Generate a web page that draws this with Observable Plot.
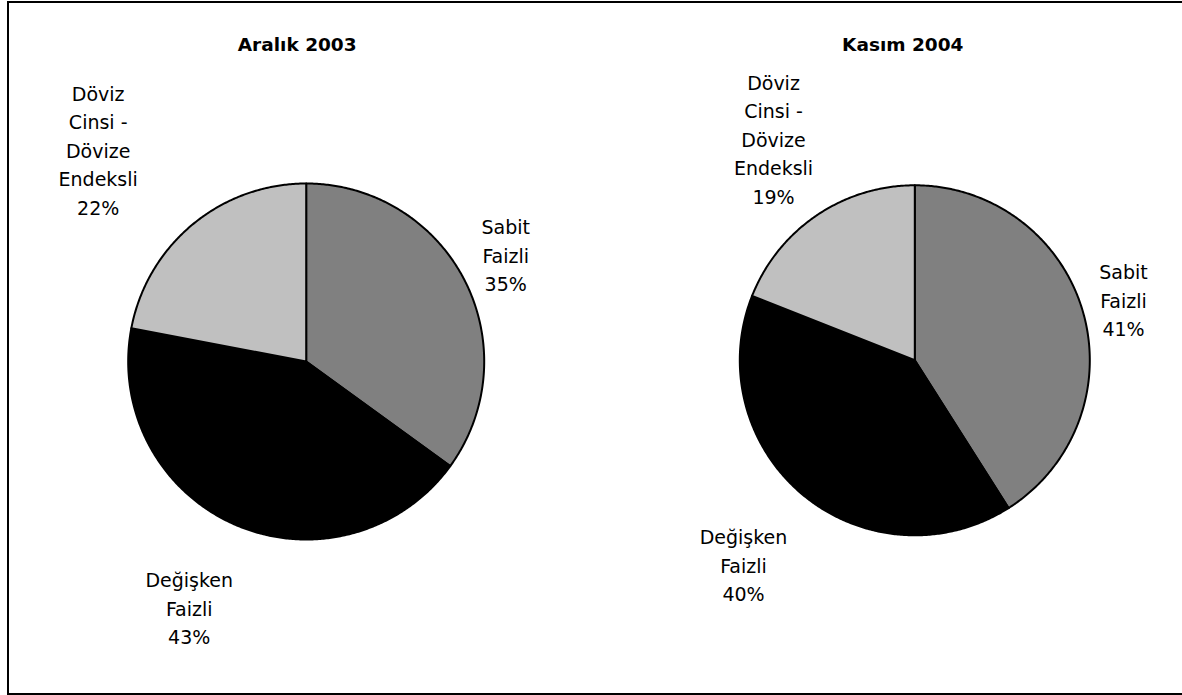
<!DOCTYPE html>
<html>
<head>
<meta charset="utf-8">
<script src="https://cdn.jsdelivr.net/npm/d3@7"></script>
<script src="https://cdn.jsdelivr.net/npm/@observablehq/plot@0.6"></script>
<style>
  html, body { margin: 0; padding: 0; background: #fff; overflow: hidden; }
  #page { position: relative; width: 1182px; height: 695px; overflow: hidden; }
  #frame { position: absolute; left: 7px; top: 1px; width: 1180px; height: 690px;
           border-left: 2px solid #000; border-top: 2px solid #000; border-bottom: 2px solid #000; border-right: none; }
  #chart { position: absolute; left: 0; top: 0; width: 1182px; height: 695px; }
</style>
</head>
<body>
<div id="page">
  <div id="frame"></div>
  <div id="chart"></div>
</div>
<script>
// ---- data ----
const periods = ["Aralık 2003", "Kasım 2004"];
const categories = ["Sabit Faizli", "Değişken Faizli", "Döviz Cinsi - Dövize Endeksli"];
const categoryLabels = ["Sabit\nFaizli", "Değişken\nFaizli", "Döviz\nCinsi -\nDövize\nEndeksli"];
const shares2003 = [35, 43, 22];
const shares2004 = [41, 40, 19];
const sliceColors = ["#808080", "#000000", "#c0c0c0"];

// ---- layout (pixels) ----
const W = 1182, H = 695, FACET_W = W / 2;
const pieGeom = {
  "Aralık 2003": {cx: 10.2, cy: 0, r: 178},
  "Kasım 2004": {cx: 27.8, cy: 1.2, r: 175}
};
// label block centers relative to the pie center (x right, y down)
const labelOffset = {
  "Aralık 2003": [[199.5, -108], [-117, 245], [-208, -213]],
  "Kasım 2004": [[208.7, -61.8], [-171.3, 203.2], [-141.3, -222.8]]
};
const titleDx = {"Aralık 2003": -9, "Kasım 2004": -12};

const sharesByPeriod = {"Aralık 2003": shares2003, "Kasım 2004": shares2004};
const pie = d3.pie().sort(null).value(d => d.value).startAngle(0).endAngle(2 * Math.PI);

const slicePoints = [];
const labels = [];
const titles = [];
for (const period of periods) {
  const g = pieGeom[period];
  titles.push({period, x: g.cx + titleDx[period], text: period});
  const rows = categories.map((c, i) => ({category: c, value: sharesByPeriod[period][i], i}));
  for (const a of pie(rows)) {
    const key = period + "|" + a.data.category;
    const pts = [{x: g.cx, y: g.cy}];
    const n = Math.max(2, Math.ceil((a.endAngle - a.startAngle) / (Math.PI / 360)));
    for (let k = 0; k <= n; k++) {
      const t = a.startAngle + (a.endAngle - a.startAngle) * k / n;
      pts.push({x: g.cx + g.r * Math.sin(t), y: g.cy + g.r * Math.cos(t)});
    }
    pts.push({x: g.cx, y: g.cy});
    for (const p of pts) slicePoints.push({period, key, category: a.data.category, x: p.x, y: p.y});
    const off = labelOffset[period][a.data.i];
    labels.push({
      period,
      x: g.cx + off[0],
      y: g.cy - off[1],
      text: categoryLabels[a.data.i] + "\n" + a.data.value + "%"
    });
  }
}

const chart = Plot.plot({
  width: W,
  height: H,
  marginLeft: 0,
  marginRight: 0,
  marginTop: 0,
  marginBottom: 0,
  fx: {domain: periods, padding: 0, axis: null, round: false},
  x: {domain: [-FACET_W / 2, FACET_W / 2], axis: null},
  y: {domain: [-(H - 361), 361], axis: null},
  color: {domain: categories, range: sliceColors},
  style: {fontFamily: "'DejaVu Sans', Verdana, sans-serif", background: "transparent"},
  marks: [
    Plot.line(slicePoints, {
      fx: "period", x: "x", y: "y", z: "key",
      fill: "category", stroke: "#000", strokeWidth: 2,
      strokeLinejoin: "round", curve: "linear"
    }),
    Plot.text(labels, {
      fx: "period", x: "x", y: "y", text: "text",
      fontSize: 19, lineHeight: 1.5, lineAnchor: "middle", fill: "#000"
    }),
    Plot.text(titles, {
      fx: "period", x: "x", text: "text", frameAnchor: "top", dy: 44.8,
      lineAnchor: "middle", fontWeight: "bold", fontSize: 18.5, fill: "#000"
    })
  ]
});
document.getElementById("chart").appendChild(chart);
</script>
</body>
</html>
